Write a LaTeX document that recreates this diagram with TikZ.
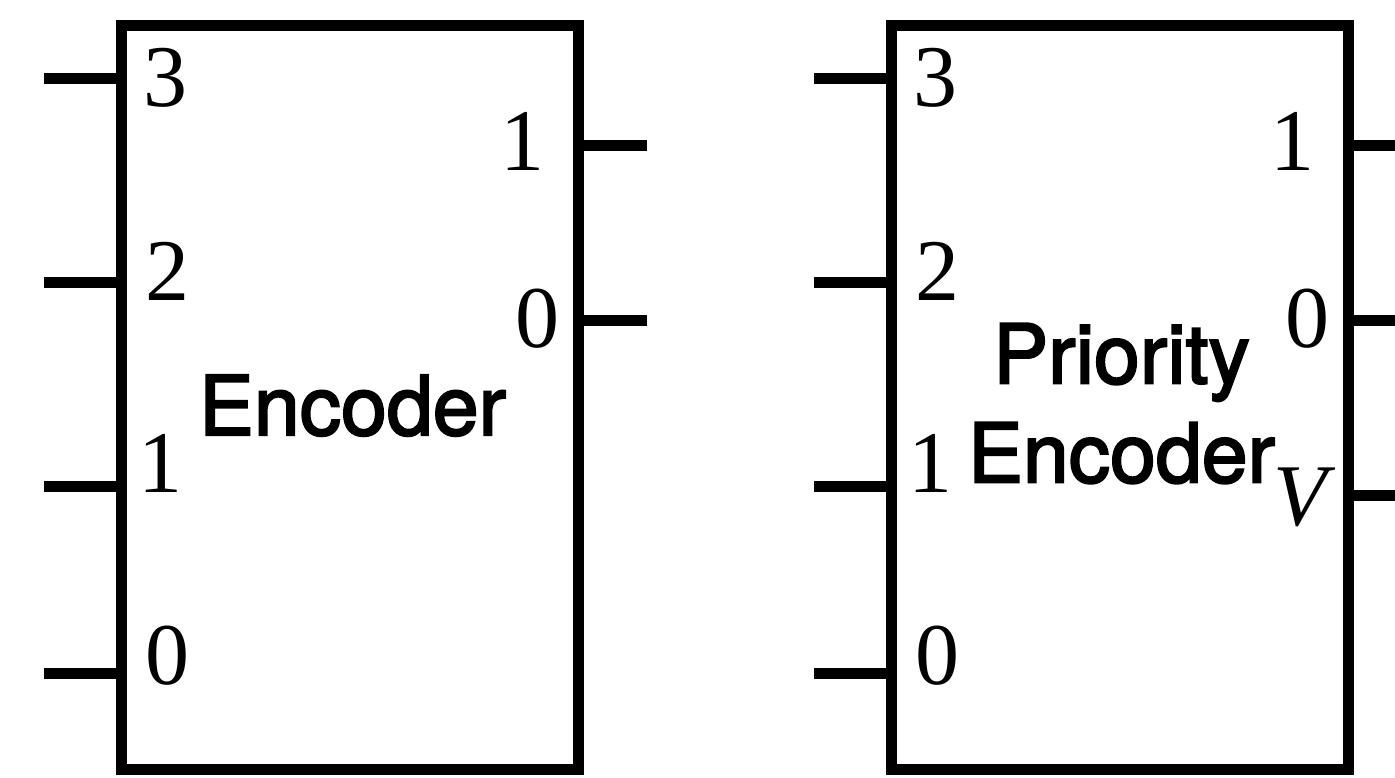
\documentclass[tikz,border=0pt]{standalone}
\usepackage{fontspec}
\setmainfont{Liberation Serif}
\newfontfamily\blocksans[FakeBold=2.5]{TeX Gyre Heros}
\begin{document}
\begin{tikzpicture}[x=1pt,y=-1pt,
  wire/.style={line width=11pt},
  block/.style={draw, line width=11pt, rectangle, inner sep=0pt, outer sep=0pt,
                minimum width=457pt, minimum height=744pt},
  pin/.style={inner sep=0pt, anchor=base, font=\fontsize{88}{88}\selectfont},
  title/.style={inner sep=0pt, font=\blocksans\fontsize{82.5}{99}\selectfont, align=center}]
\useasboundingbox (0,0) rectangle (1395,777);
\clip (0,0) rectangle (1395,777);

% ---- plain encoder ----
\node[block] (enc) at (350,397) {};
\coordinate (a3) at (44,78.5);
\coordinate (a2) at (44,282.5);
\coordinate (a1) at (44,486.5);
\coordinate (a0) at (44,673.5);
\coordinate (ay1) at (647,145.5);
\coordinate (ay0) at (647,320.5);
\foreach \p in {a3,a2,a1,a0} \draw[wire] (\p) -- (\p -| enc.west);
\foreach \p in {ay1,ay0} \draw[wire] (\p -| enc.east) -- (\p);

\node[pin] (ai3) at (165,106) {3};
\node[pin] (ai2) at (167,300) {2};
\node[pin] (ai1) at (160,492) {1};
\node[pin] (ai0) at (167,684) {0};
\node[pin] (ao1) at (522.5,170) {1};
\node[pin] (ao0) at (537,347) {0};
\node[title, anchor=base] (enctext) at (352.5,435) {Encoder};

% ---- priority encoder ----
\node[block] (penc) at (1120,397) {};
\coordinate (b3) at (814,78.5);
\coordinate (b2) at (814,282.5);
\coordinate (b1) at (814,486.5);
\coordinate (b0) at (814,673.5);
\coordinate (by1) at (1417,145.5);
\coordinate (by0) at (1417,320.5);
\coordinate (byv) at (1417,495);
\foreach \p in {b3,b2,b1,b0} \draw[wire] (\p) -- (\p -| penc.west);
\foreach \p in {by1,by0,byv} \draw[wire] (\p -| penc.east) -- (\p);

\node[pin] (bi3) at (935,106) {3};
\node[pin] (bi2) at (937,300) {2};
\node[pin] (bi1) at (930,492) {1};
\node[pin] (bi0) at (937,684) {0};
\node[pin] (bo1) at (1292,170) {1};
\node[pin] (bo0) at (1307,347) {0};
\node[pin] (bov) at (1300,525) {\itshape V};
\node[title] (penctext) at (1121.5,403.5) {Priority\\Encoder};
\end{tikzpicture}
\end{document}
